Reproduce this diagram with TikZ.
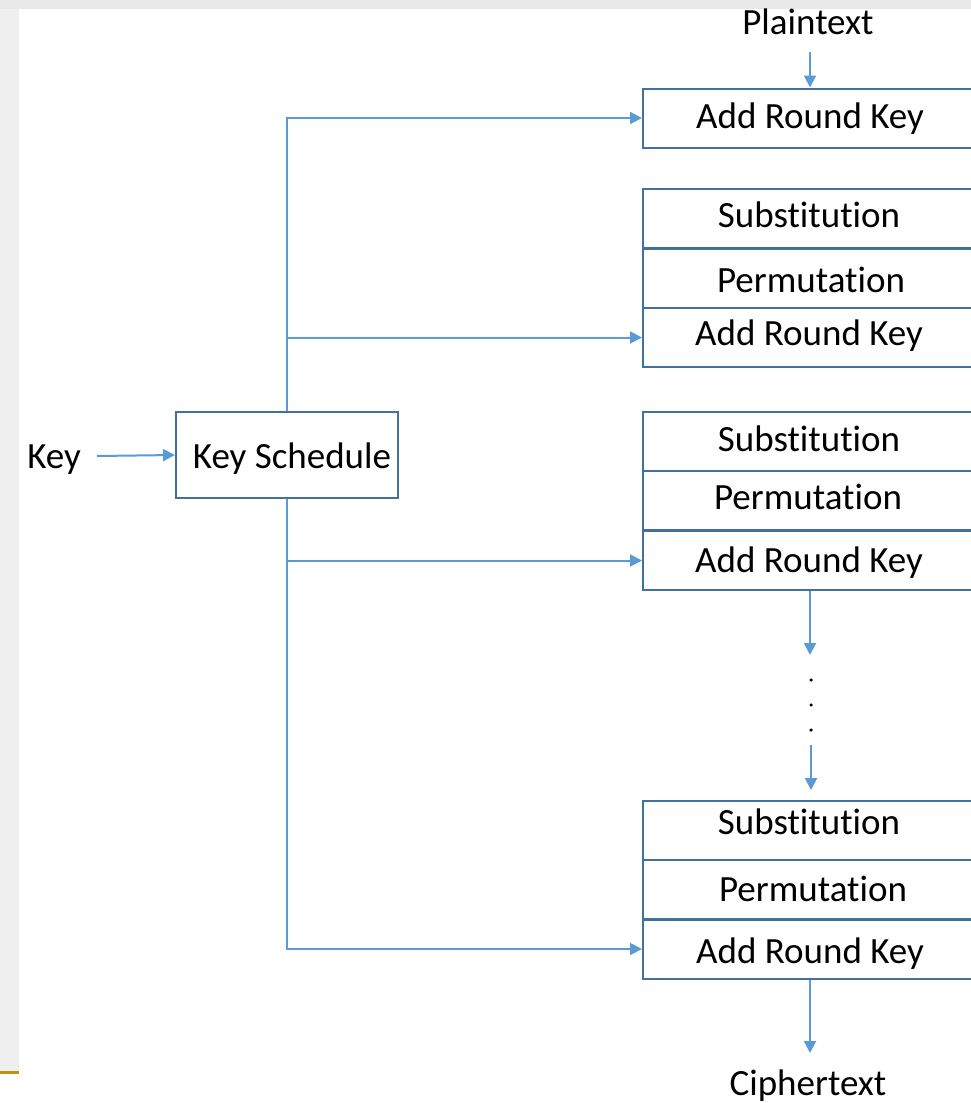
\documentclass[tikz,border=0pt]{standalone}
\usepackage{fontspec}
\setmainfont{Carlito}[RawFeature={-liga}]
\usetikzlibrary{arrows.meta}
\definecolor{arrblue}{HTML}{5B9BD5}
\definecolor{boxblue}{HTML}{41719C}
\definecolor{topgray}{HTML}{E8E8E8}
\definecolor{leftgray}{HTML}{EFEFEF}
\definecolor{gold}{HTML}{C0900F}
\tikzset{
  txt/.style={font=\fontsize{37}{44}\selectfont, inner sep=0pt},
  rowbox/.style={draw=boxblue, line width=2pt, minimum width=334pt, minimum height=59pt, inner sep=0pt},
  arr/.style={draw=arrblue, line width=2pt, -{Triangle[length=12pt,width=12pt]}},
  dotn/.style={circle, fill=black, inner sep=0pt, minimum size=3.5pt}
}
\begin{document}
\begin{tikzpicture}[x=1pt,y=-1pt]
\useasboundingbox (0,0) rectangle (971,1103);
\clip (0,0) rectangle (971,1103);
\fill[white] (0,0) rectangle (971,1103);
\fill[topgray] (0,0) rectangle (971,9);
\fill[leftgray] (0,9) rectangle (19,1071);
\fill[gold] (0,1071) rectangle (19,1074);

% right column boxes
\node[rowbox] (ark1) at (810,118) {};
\node[rowbox] (sub2) at (810,218.5) {};
\node[rowbox] (per2) at (810,278) {};
\node[rowbox] (ark2) at (810,337.5) {};
\node[rowbox] (sub3) at (810,441) {};
\node[rowbox] (per3) at (810,500.5) {};
\node[rowbox] (ark3) at (810,560.5) {};
\node[rowbox] (sub4) at (810,830.5) {};
\node[rowbox] (per4) at (810,889.5) {};
\node[rowbox] (ark4) at (810,949) {};

% row texts
\node[txt] (ark1t) at (810,119) {Add Round Key};
\node[txt] (sub2t) at (809,214.5) {Substitution};
\node[txt] (per2t) at (811,280) {Permutation};
\node[txt] (ark2t) at (809,335.5) {Add Round Key};
\node[txt] (sub3t) at (809,439) {Substitution};
\node[txt] (per3t) at (808,496.5) {Permutation};
\node[txt] (ark3t) at (809,562.5) {Add Round Key};
\node[txt] (sub4t) at (809,821.5) {Substitution};
\node[txt] (per4t) at (813,888.5) {Permutation};
\node[txt] (ark4t) at (810,954) {Add Round Key};

% key schedule
\node[draw=boxblue, line width=2pt, minimum width=222pt, minimum height=86pt] (ks) at (287,455) {};
\node[txt] (kst) at (292,459) {Key Schedule};
\node[txt] (key) at (54,460) {Key};
\coordinate (keyout) at (97,456);
\draw[arr] (keyout) -- (ks.west);

% branches
\draw[arr] (ks.north) |- (ark1.west);
\draw[arr] (ks.north) |- (ark2.west);
\draw[arr] (ks.south) |- (ark3.west);
\draw[arr] (ks.south) |- (ark4.west);

% plaintext / ciphertext
\node[txt] (pt) at (808,22) {Plaintext};
\coordinate (ptout) at (810,52);
\draw[arr] (ptout) -- (ark1.north);

\coordinate (c1) at (810,655);
\draw[arr] (ark3.south) -- (c1);
\node[dotn] (d1) at (811,680) {};
\node[dotn] (d2) at (811,705) {};
\node[dotn] (d3) at (811,730) {};
\coordinate (c2a) at (811,745);
\coordinate (c2b) at (811,790);
\draw[arr] (c2a) -- (c2b);

\coordinate (c3) at (810,1053);
\draw[arr] (ark4.south) -- (c3);
\node[txt] (ct) at (808,1086) {Ciphertext};
\end{tikzpicture}
\end{document}
